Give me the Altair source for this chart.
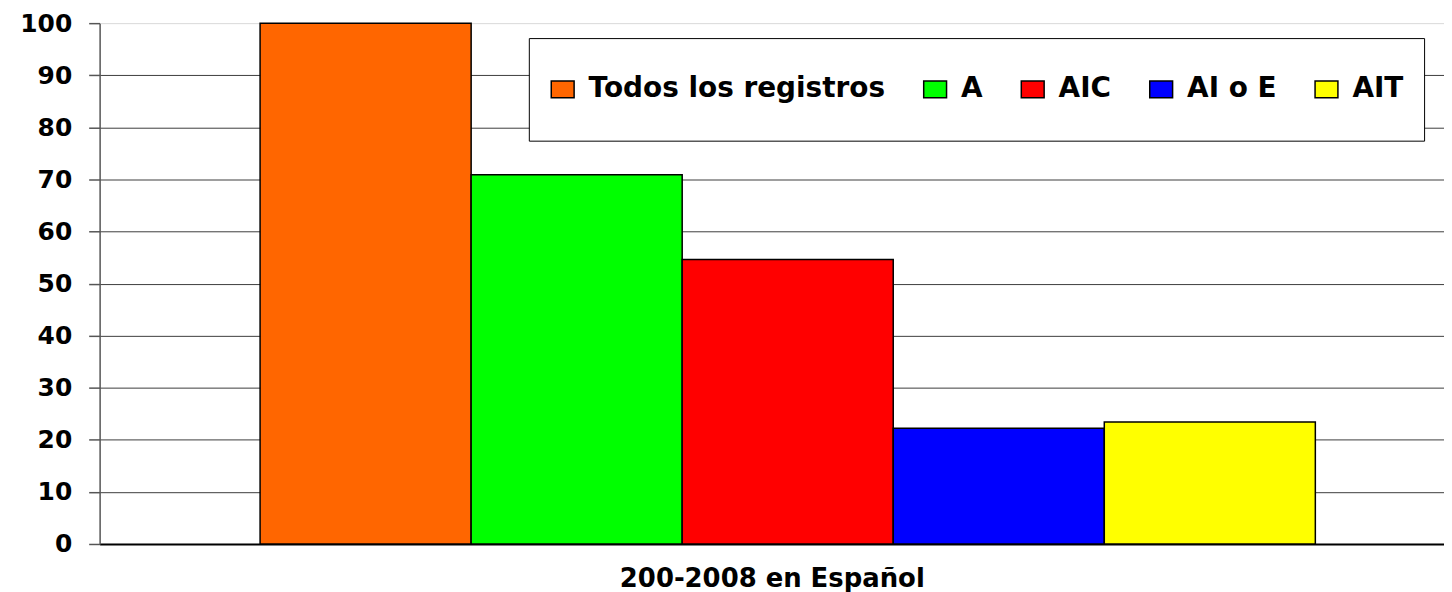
import altair as alt
import pandas as pd

series = ["Todos los registros", "A", "AIC", "AI o E", "AIT"]
values = [100, 70.9, 54.6, 22.2, 23.4]
colors = ["#FF6600", "#00FF00", "#FF0000", "#0000FF", "#FFFF00"]
y_ticks = [0, 10, 20, 30, 40, 50, 60, 70, 80, 90, 100]
x_title = "200-2008 en Español"

df = pd.DataFrame({"serie": series, "valor": values})

FONT = "DejaVu Sans"

chart = alt.Chart(df).mark_bar(stroke="black", strokeWidth=1.5).encode(
    x=alt.X(
        "serie:N",
        sort=series,
        scale=alt.Scale(paddingInner=0, paddingOuter=0.685, align=0.555),
        axis=alt.Axis(
            labels=False, ticks=False, grid=False,
            domainColor="black", domainWidth=2,
            title=x_title, titleFont=FONT, titleFontSize=26,
            titleFontWeight="bold", titleColor="black",
            titleBaseline="alphabetic", titlePadding=43,
        ),
    ),
    y=alt.Y(
        "valor:Q",
        scale=alt.Scale(domain=[0, 100], nice=False),
        axis=alt.Axis(
            values=y_ticks, title=None, grid=True,
            gridColor=alt.condition("datum.value == 100", alt.value("#d9d9d9"), alt.value("#3c3c3c")),
            gridWidth=1,
            domainColor="#555555", domainWidth=1.5,
            tickColor="#555555", tickSize=11, tickWidth=1.5,
            labelFont=FONT, labelFontSize=25, labelFontWeight="bold",
            labelColor="black", labelPadding=17,
        ),
    ),
    color=alt.Color(
        "serie:N",
        sort=series,
        scale=alt.Scale(domain=series, range=colors),
        legend=alt.Legend(
            title=None, orient="none", direction="horizontal",
            legendX=431, legendY=15,
            fillColor="white", strokeColor="black", padding=20,
            symbolType="M-1.35,-1H1.35V1H-1.35Z", symbolSize=289,
            symbolStrokeColor="black", symbolStrokeWidth=1.5, symbolOpacity=1,
            labelFont=FONT, labelFontSize=28, labelFontWeight="bold",
            labelColor="black", labelOffset=12, columnPadding=36,
            clipHeight=63, labelLimit=0,
        ),
    ),
).properties(
    width=1350,
    height=523,
    autosize=alt.AutoSizeParams(type="none"),
    padding={"left": 92, "top": 14, "right": 0, "bottom": 47},
    background="white",
).configure_view(strokeWidth=0)

chart.save("out.html", embed_options={"renderer": "svg", "actions": False})
